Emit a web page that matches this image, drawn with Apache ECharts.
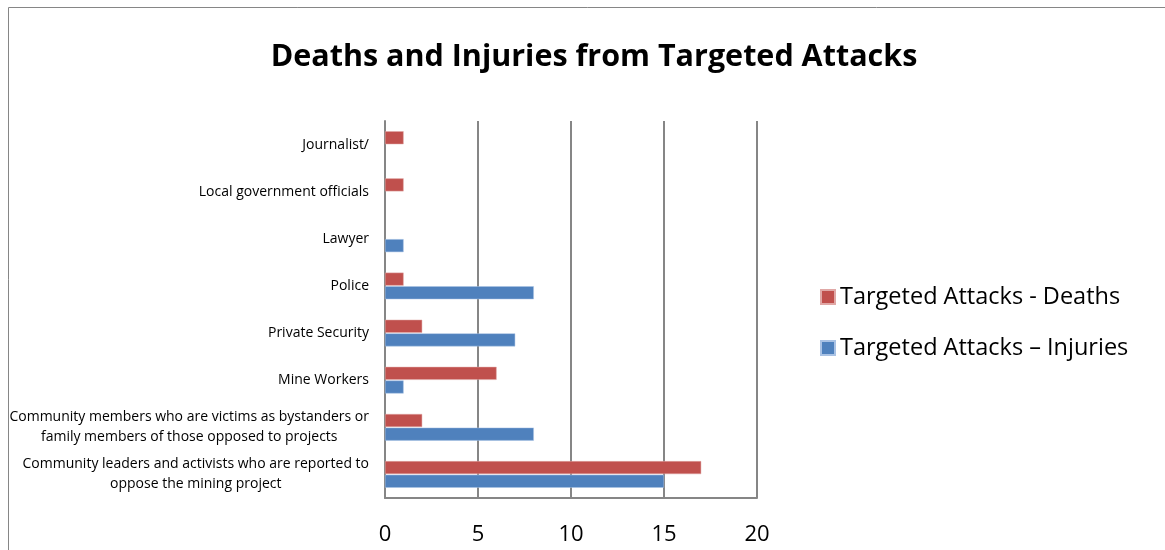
<!DOCTYPE html>
<html>
<head>
<meta charset="utf-8">
<script src="https://cdn.jsdelivr.net/npm/echarts@6/dist/echarts.min.js"></script>
<style>
html,body{margin:0;padding:0;background:#fff;}
#c{width:1165px;height:550px;}
</style>
</head>
<body>
<div id="c"></div>
<script>
const categories = [
  "Community leaders and activists who are reported to\noppose the mining project",
  "Community members who are victims as bystanders or\nfamily members of those opposed to projects",
  "Mine Workers",
  "Private Security",
  "Police",
  "Lawyer",
  "Local government officials",
  "Journalist/"
];
const deaths = [17, 2, 6, 2, 1, null, 1, 1];
const injuries = [15, 8, 1, 7, 8, 1, null, null];
const seriesNames = ["Targeted Attacks - Deaths", "Targeted Attacks \u2013 Injuries"];
const xTicks = [0, 5, 10, 15, 20];

const FONT = 'Open Sans';
const chart = echarts.init(document.getElementById('c'), null, {renderer: 'canvas'});
chart.setOption({
  animation: false,
  backgroundColor: '#fff',
  textStyle: {fontFamily: FONT},
  title: {
    text: 'Deaths and Injuries from Targeted Attacks',
    left: 589,
    textAlign: 'center',
    top: 37,
    textStyle: {fontFamily: FONT, fontWeight: 'bold', fontSize: 30.5, color: '#000'}
  },
  graphic: [{
    type: 'rect',
    shape: {x: 8.5, y: 7.5, width: 1200, height: 600},
    style: {fill: 'none', stroke: '#868686', lineWidth: 1},
    silent: true
  }],
  legend: {
    orient: 'vertical',
    left: 815,
    top: 280,
    itemWidth: 14,
    itemHeight: 14,
    itemGap: 27,
    icon: 'rect',
    data: [seriesNames[0], seriesNames[1]],
    textStyle: {fontFamily: FONT, fontSize: 23.5, color: '#000'}
  },
  grid: {left: 385, right: 408, top: 121, bottom: 52, containLabel: false},
  xAxis: {
    type: 'value',
    min: xTicks[0],
    max: xTicks[xTicks.length - 1],
    interval: 5,
    axisLine: {show: true, lineStyle: {color: '#868686', width: 2}},
    axisTick: {show: false},
    splitLine: {show: true, lineStyle: {color: '#868686', width: 2}},
    axisLabel: {fontFamily: FONT, fontSize: 22, color: '#000', margin: 26}
  },
  yAxis: {
    type: 'category',
    data: categories,
    axisLine: {show: true, lineStyle: {color: '#868686', width: 2}},
    axisTick: {show: false},
    axisLabel: {
      margin: 16,
      color: '#000',
      fontFamily: FONT,
      fontSize: 14,
      lineHeight: 20,
      formatter: function (v) {
        return v.split('\n').map(function (l) { return '{c|' + l + '}'; }).join('\n');
      },
      rich: {c: {align: 'center', fontFamily: FONT, fontSize: 14, lineHeight: 20, color: '#000'}}
    }
  },
  series: [
    {
      name: seriesNames[0],
      type: 'bar',
      data: deaths,
      barWidth: 13,
      barGap: '5%',
      itemStyle: {color: '#C0504D', borderColor: '#e0a8a6', borderWidth: 0.5}
    },
    {
      name: seriesNames[1],
      type: 'bar',
      data: injuries,
      barWidth: 13,
      barGap: '5%',
      itemStyle: {color: '#4F81BD', borderColor: '#a9c2e4', borderWidth: 0.5}
    }
  ]
});
</script>
</body>
</html>
